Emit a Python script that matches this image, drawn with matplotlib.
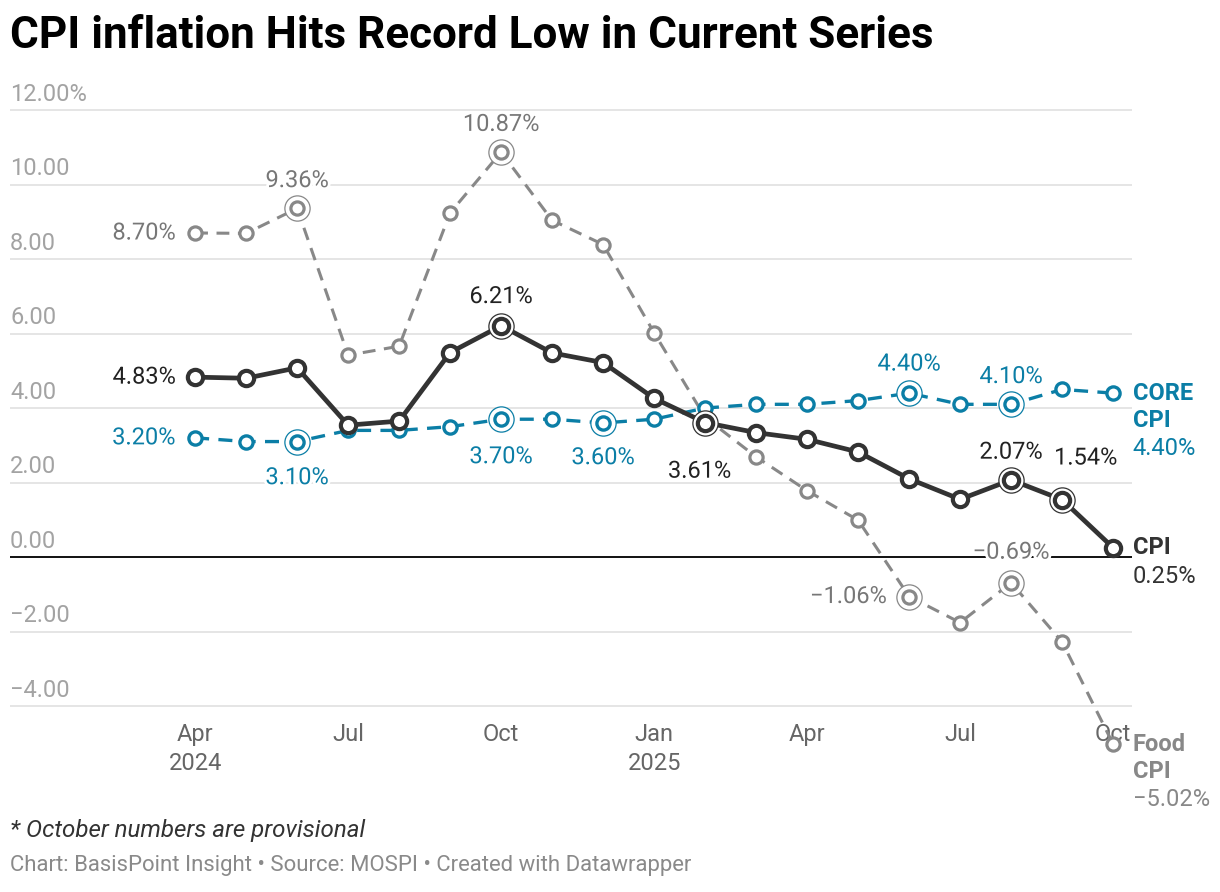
import matplotlib.pyplot as plt
import matplotlib.patheffects as pe
from matplotlib.transforms import blended_transform_factory

plt.rcParams['font.family'] = ['Roboto', 'DejaVu Sans']

# monthly data, Apr 2024 .. Oct 2025
months = ['Apr 24', 'May 24', 'Jun 24', 'Jul 24', 'Aug 24', 'Sep 24', 'Oct 24', 'Nov 24', 'Dec 24',
          'Jan 25', 'Feb 25', 'Mar 25', 'Apr 25', 'May 25', 'Jun 25', 'Jul 25', 'Aug 25', 'Sep 25', 'Oct 25']
cpi = [4.83, 4.80, 5.08, 3.54, 3.65, 5.49, 6.21, 5.48, 5.22, 4.26, 3.61, 3.34, 3.16, 2.82, 2.10, 1.55, 2.07, 1.54, 0.25]
core = [3.20, 3.10, 3.10, 3.40, 3.40, 3.50, 3.70, 3.70, 3.60, 3.70, 4.00, 4.10, 4.10, 4.20, 4.40, 4.10, 4.10, 4.50, 4.40]
food = [8.70, 8.69, 9.36, 5.42, 5.66, 9.24, 10.87, 9.04, 8.39, 6.02, 3.75, 2.69, 1.78, 0.99, -1.06, -1.76, -0.69, -2.28, -5.02]

cpi_rings = [6, 10, 16, 17]
core_rings = [2, 6, 8, 14, 16]
food_rings = [2, 6, 14, 16]

tick_pos = [0, 3, 6, 9, 12, 15, 18]
tick_labels = ['Apr\n2024', 'Jul', 'Oct', 'Jan\n2025', 'Apr', 'Jul', 'Oct']
y_ticks = [-4, -2, 0, 2, 4, 6, 8, 10, 12]
y_tick_labels = ['\u22124.00', '\u22122.00', '0.00', '2.00', '4.00', '6.00', '8.00', '10.00', '12.00%']

C_CPI = '#333333'
C_CORE = '#0b7ea6'
C_FOOD = '#888888'
FS = 17

fig = plt.figure(figsize=(12.2, 8.92), dpi=100)
ax = fig.add_axes([10 / 1220, 0.1897, 1122 / 1220, 0.689])
x = list(range(len(months)))

ax.set_xlim(-3.63, 18.37)
ax.set_ylim(-4.45, 12.05)
for s in ax.spines.values():
    s.set_visible(False)
ax.set_yticks(y_ticks)
ax.set_yticklabels([])
ax.tick_params(axis='y', length=0)
ax.grid(axis='y', color='#e3e3e3', lw=1.3)
ax.axhline(0, color='#111111', lw=1.4, zorder=2)
ax.set_xticks(tick_pos)
ax.set_xticklabels(tick_labels, fontsize=FS, color='#666666', linespacing=1.35)
ax.tick_params(axis='x', length=0, pad=0)

ytr = blended_transform_factory(ax.transAxes, ax.transData)
for t, lab in zip(y_ticks, y_tick_labels):
    ax.annotate(lab, xy=(0, t), xycoords=ytr, xytext=(0, 3), textcoords='offset points',
                ha='left', va='bottom', fontsize=FS, color='#a3a3a3')

halo = [pe.withStroke(linewidth=4, foreground='white')]


def series(vals, color, lw, ms, mew, dashed, rings, z):
    line, = ax.plot(x, vals, color=color, lw=lw, marker='o', ms=ms, mfc='white', mec=color,
                    mew=mew, zorder=z, clip_on=False, solid_capstyle='round')
    if dashed:
        line.set_dashes((4.2, 2.8))
    ax.scatter([x[i] for i in rings], [vals[i] for i in rings], s=330, facecolor='white',
               edgecolor=color, lw=0.9, zorder=z + 0.5, clip_on=False)
    ax.plot([x[i] for i in rings], [vals[i] for i in rings], ls='none', marker='o', ms=ms,
            mfc='white', mec=color, mew=mew, zorder=z + 0.6, clip_on=False)


series(food, C_FOOD, 2.2, 9.5, 2.3, True, food_rings, 3)
series(core, C_CORE, 2.4, 9.5, 2.4, True, core_rings, 4)
series(cpi, C_CPI, 3.4, 11, 3.0, False, cpi_rings, 5)


def label(i, vals, text, color, dx, dy, ha='center'):
    ax.annotate(text, xy=(x[i], vals[i]), xytext=(dx, dy), textcoords='offset points',
                ha=ha, va='center', fontsize=FS, color=color, path_effects=halo,
                zorder=10, annotation_clip=False)


# food labels
label(0, food, '8.70%', '#777777', -14, 0, 'right')
label(2, food, '9.36%', '#777777', 0, 20)
label(6, food, '10.87%', '#777777', 0, 20)
label(14, food, '\u22121.06%', '#777777', -16, 0, 'right')
label(16, food, '\u22120.69%', '#777777', 0, 22)
# cpi labels
label(0, cpi, '4.83%', '#222222', -14, 0, 'right')
label(6, cpi, '6.21%', '#222222', 0, 21)
label(10, cpi, '3.61%', '#222222', -4, -35)
label(16, cpi, '2.07%', '#222222', 0, 20)
label(17, cpi, '1.54%', '#222222', 17, 30)
# core labels
label(0, core, '3.20%', C_CORE, -14, 0, 'right')
label(2, core, '3.10%', C_CORE, 0, -26)
label(6, core, '3.70%', C_CORE, 0, -27)
label(8, core, '3.60%', C_CORE, 0, -25)
label(14, core, '4.40%', C_CORE, 0, 21)
label(16, core, '4.10%', C_CORE, 0, 20)


def end_label(vals, names, color):
    n = len(vals) - 1
    for k, nm in enumerate(names):
        ax.annotate(nm, xy=(x[n], vals[n]), xytext=(14, -19.5 * k), textcoords='offset points',
                    ha='left', va='center', fontsize=FS, fontweight='bold', color=color,
                    annotation_clip=False)
    ax.annotate(f'{vals[n]:.2f}%'.replace('-', '\u2212'), xy=(x[n], vals[n]),
                xytext=(14, -19.5 * len(names) - 1), textcoords='offset points',
                ha='left', va='center', fontsize=FS, color=color, annotation_clip=False)


end_label(core, ['CORE', 'CPI'], C_CORE)
end_label(cpi, ['CPI'], C_CPI)
end_label(food, ['Food', 'CPI'], C_FOOD)

fig.text(10 / 1220, 1 - 36 / 892, 'CPI inflation Hits Record Low in Current Series',
         fontsize=31.7, fontweight='bold', color='#000000', va='center', ha='left')
fig.text(10 / 1220, 1 - 830 / 892, '* October numbers are provisional', fontsize=17.4,
         style='italic', color='#333333', va='center', ha='left')
fig.text(10 / 1220, 1 - 866 / 892,
         'Chart: BasisPoint Insight \u2022 Source: MOSPI \u2022 Created with Datawrapper',
         fontsize=15.9, color='#8a8a8a', va='center', ha='left')

fig.savefig('out.png', dpi=100, facecolor='white')
